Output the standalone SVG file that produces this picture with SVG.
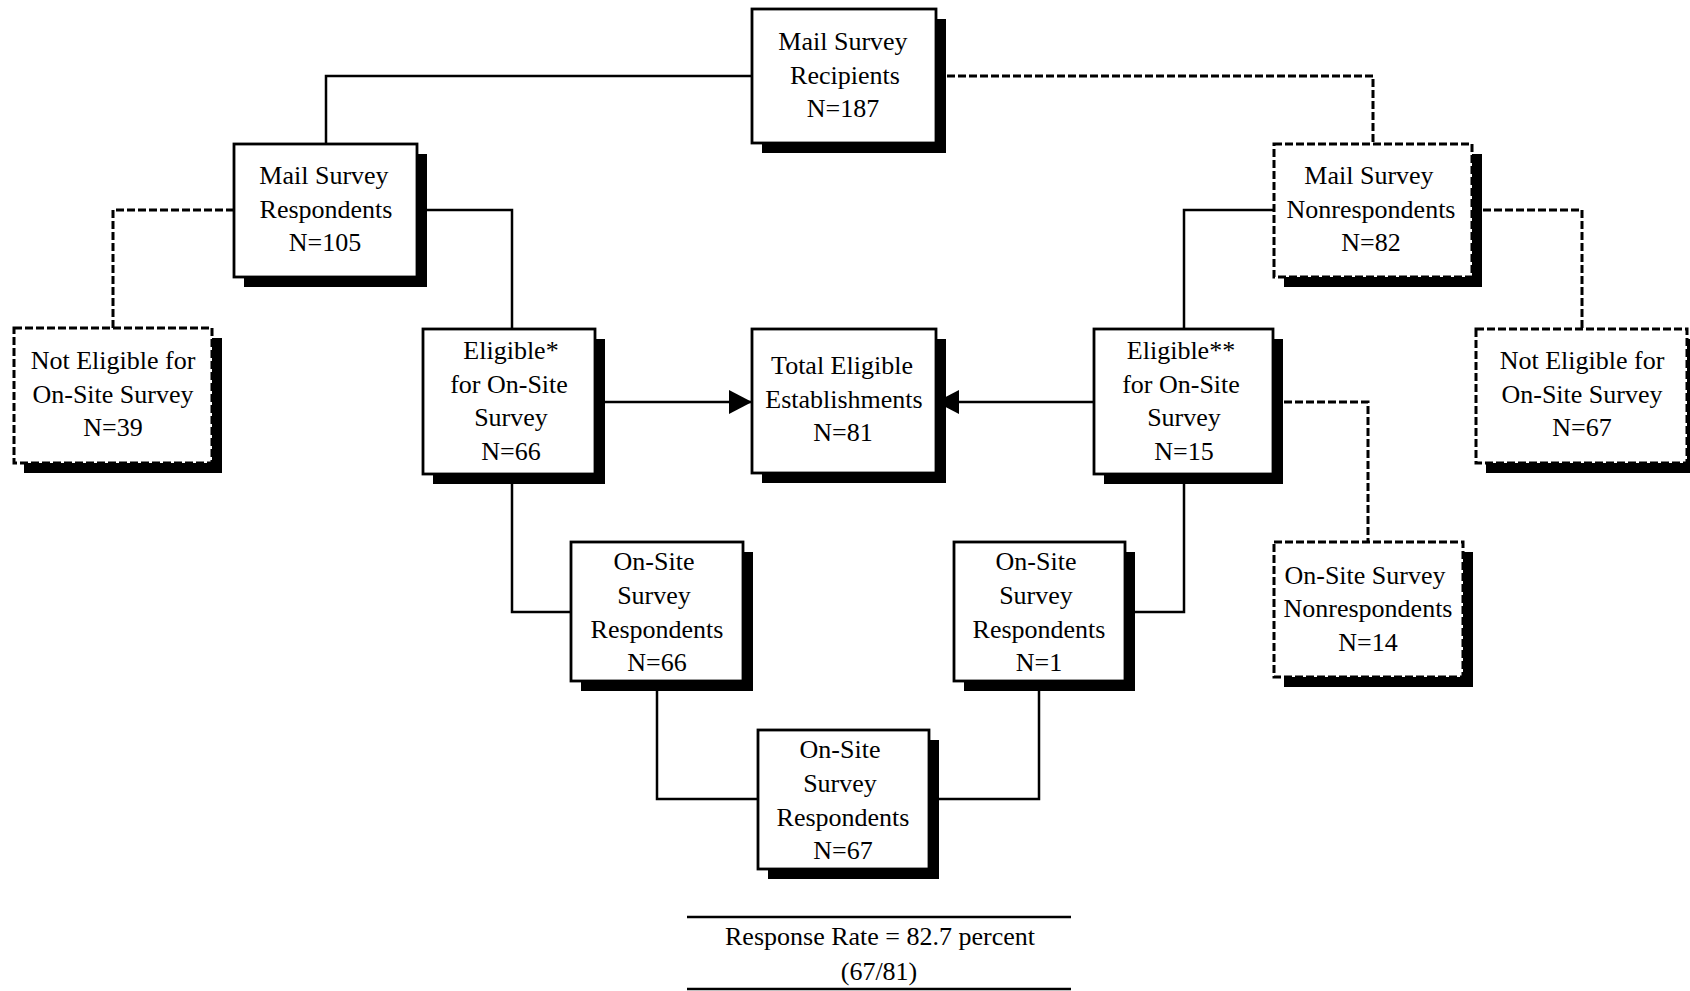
<svg xmlns="http://www.w3.org/2000/svg" width="1690" height="991" viewBox="0 0 1690 991">
  <style>
    .bg { fill: #ffffff; }
    .shadow { fill: #000000; }
    .box { fill: #ffffff; stroke: #000000; stroke-width: 2.8; }
    .box.dashed { stroke-width: 3; stroke-dasharray: 8 3; }
    .wire { fill: none; stroke: #000000; stroke-width: 2.5; }
    .wire.dashed { stroke-width: 3; stroke-dasharray: 8 3; }
    .rule { stroke: #000000; stroke-width: 2.4; }
    .lbl { font-family: "Liberation Serif", "Times New Roman", serif; font-size: 26px; fill: #000000; text-anchor: middle; }
  </style>
  <defs>
    <marker id="arrow" markerUnits="userSpaceOnUse" markerWidth="23" markerHeight="24" refX="23" refY="12" orient="auto">
      <path d="M0,0 L23,12 L0,24 Z" fill="#000000"/>
    </marker>
  </defs>

  <rect class="bg" x="0" y="0" width="1690" height="991"/>

  <!-- connectors -->
  <g id="connectors">
    <path class="wire" d="M752,76 H326 V144"/>
    <path class="wire dashed" d="M936,76 H1373 V144"/>
    <path class="wire dashed" d="M234,210 H113 V328"/>
    <path class="wire" d="M417,210 H512 V329"/>
    <path class="wire" d="M1274,210 H1184 V329"/>
    <path class="wire dashed" d="M1472,210 H1582 V329"/>
    <path class="wire" d="M595,402 H752" marker-end="url(#arrow)"/>
    <path class="wire" d="M1094,402 H936" marker-end="url(#arrow)"/>
    <path class="wire dashed" d="M1273,402 H1368 V542"/>
    <path class="wire" d="M512,474 V612 H571"/>
    <path class="wire" d="M1184,474 V612 H1125"/>
    <path class="wire" d="M657,681 V799 H758"/>
    <path class="wire" d="M1039,681 V799 H929"/>
  </g>

  <!-- Mail Survey Recipients -->
  <g id="recipients">
    <rect class="shadow" x="762" y="19" width="184" height="134"/>
    <rect class="box" x="752" y="9" width="184" height="134"/>
    <text class="lbl"><tspan x="843" y="50">Mail Survey</tspan><tspan x="845" y="84">Recipients</tspan><tspan x="843" y="117">N=187</tspan></text>
  </g>

  <!-- Mail Survey Respondents -->
  <g id="mail-respondents">
    <rect class="shadow" x="244" y="154" width="183" height="133"/>
    <rect class="box" x="234" y="144" width="183" height="133"/>
    <text class="lbl"><tspan x="324" y="184">Mail Survey</tspan><tspan x="326" y="218">Respondents</tspan><tspan x="325" y="251">N=105</tspan></text>
  </g>

  <!-- Not Eligible (mail respondents) -->
  <g id="not-eligible-39">
    <rect class="shadow" x="24" y="338" width="198" height="135"/>
    <rect class="box dashed" x="14" y="328" width="198" height="135"/>
    <text class="lbl"><tspan x="113" y="369">Not Eligible for</tspan><tspan x="113" y="403">On-Site Survey</tspan><tspan x="113" y="436">N=39</tspan></text>
  </g>

  <!-- Eligible* for On-Site Survey -->
  <g id="eligible-66">
    <rect class="shadow" x="433" y="339" width="172" height="145"/>
    <rect class="box" x="423" y="329" width="172" height="145"/>
    <text class="lbl"><tspan x="511" y="359">Eligible*</tspan><tspan x="509" y="393">for On-Site</tspan><tspan x="511" y="426">Survey</tspan><tspan x="511" y="460">N=66</tspan></text>
  </g>

  <!-- Total Eligible Establishments -->
  <g id="total-eligible">
    <rect class="shadow" x="762" y="339" width="184" height="144"/>
    <rect class="box" x="752" y="329" width="184" height="144"/>
    <text class="lbl"><tspan x="842" y="374">Total Eligible</tspan><tspan x="844" y="408">Establishments</tspan><tspan x="843" y="441">N=81</tspan></text>
  </g>

  <!-- Eligible** for On-Site Survey -->
  <g id="eligible-15">
    <rect class="shadow" x="1104" y="339" width="179" height="145"/>
    <rect class="box" x="1094" y="329" width="179" height="145"/>
    <text class="lbl"><tspan x="1181" y="359">Eligible**</tspan><tspan x="1181" y="393">for On-Site</tspan><tspan x="1184" y="426">Survey</tspan><tspan x="1184" y="460">N=15</tspan></text>
  </g>

  <!-- Mail Survey Nonrespondents -->
  <g id="mail-nonrespondents">
    <rect class="shadow" x="1284" y="154" width="198" height="133"/>
    <rect class="box dashed" x="1274" y="144" width="198" height="133"/>
    <text class="lbl"><tspan x="1369" y="184">Mail Survey</tspan><tspan x="1371" y="218">Nonrespondents</tspan><tspan x="1371" y="251">N=82</tspan></text>
  </g>

  <!-- Not Eligible (mail nonrespondents) -->
  <g id="not-eligible-67">
    <rect class="shadow" x="1486" y="339" width="211" height="134"/>
    <rect class="box dashed" x="1476" y="329" width="211" height="134"/>
    <text class="lbl"><tspan x="1582" y="369">Not Eligible for</tspan><tspan x="1582" y="403">On-Site Survey</tspan><tspan x="1582" y="436">N=67</tspan></text>
  </g>

  <!-- On-Site Survey Respondents N=66 -->
  <g id="onsite-66">
    <rect class="shadow" x="581" y="552" width="172" height="139"/>
    <rect class="box" x="571" y="542" width="172" height="139"/>
    <text class="lbl"><tspan x="654" y="570">On-Site</tspan><tspan x="654" y="604">Survey</tspan><tspan x="657" y="638">Respondents</tspan><tspan x="657" y="671">N=66</tspan></text>
  </g>

  <!-- On-Site Survey Respondents N=1 -->
  <g id="onsite-1">
    <rect class="shadow" x="964" y="552" width="171" height="139"/>
    <rect class="box" x="954" y="542" width="171" height="139"/>
    <text class="lbl"><tspan x="1036" y="570">On-Site</tspan><tspan x="1036" y="604">Survey</tspan><tspan x="1039" y="638">Respondents</tspan><tspan x="1039" y="671">N=1</tspan></text>
  </g>

  <!-- On-Site Survey Nonrespondents -->
  <g id="onsite-nonrespondents">
    <rect class="shadow" x="1284" y="552" width="189" height="135"/>
    <rect class="box dashed" x="1274" y="542" width="189" height="135"/>
    <text class="lbl"><tspan x="1365" y="584">On-Site Survey</tspan><tspan x="1368" y="617">Nonrespondents</tspan><tspan x="1368" y="651">N=14</tspan></text>
  </g>

  <!-- On-Site Survey Respondents N=67 -->
  <g id="onsite-67">
    <rect class="shadow" x="768" y="740" width="171" height="139"/>
    <rect class="box" x="758" y="730" width="171" height="139"/>
    <text class="lbl"><tspan x="840" y="758">On-Site</tspan><tspan x="840" y="792">Survey</tspan><tspan x="843" y="826">Respondents</tspan><tspan x="843" y="859">N=67</tspan></text>
  </g>

  <!-- response rate footer -->
  <g id="response-rate">
    <line class="rule" x1="687" y1="917" x2="1071" y2="917"/>
    <line class="rule" x1="687" y1="989" x2="1071" y2="989"/>
    <text class="lbl"><tspan x="880" y="945">Response Rate = 82.7 percent</tspan><tspan x="879" y="980">(67/81)</tspan></text>
  </g>
</svg>
